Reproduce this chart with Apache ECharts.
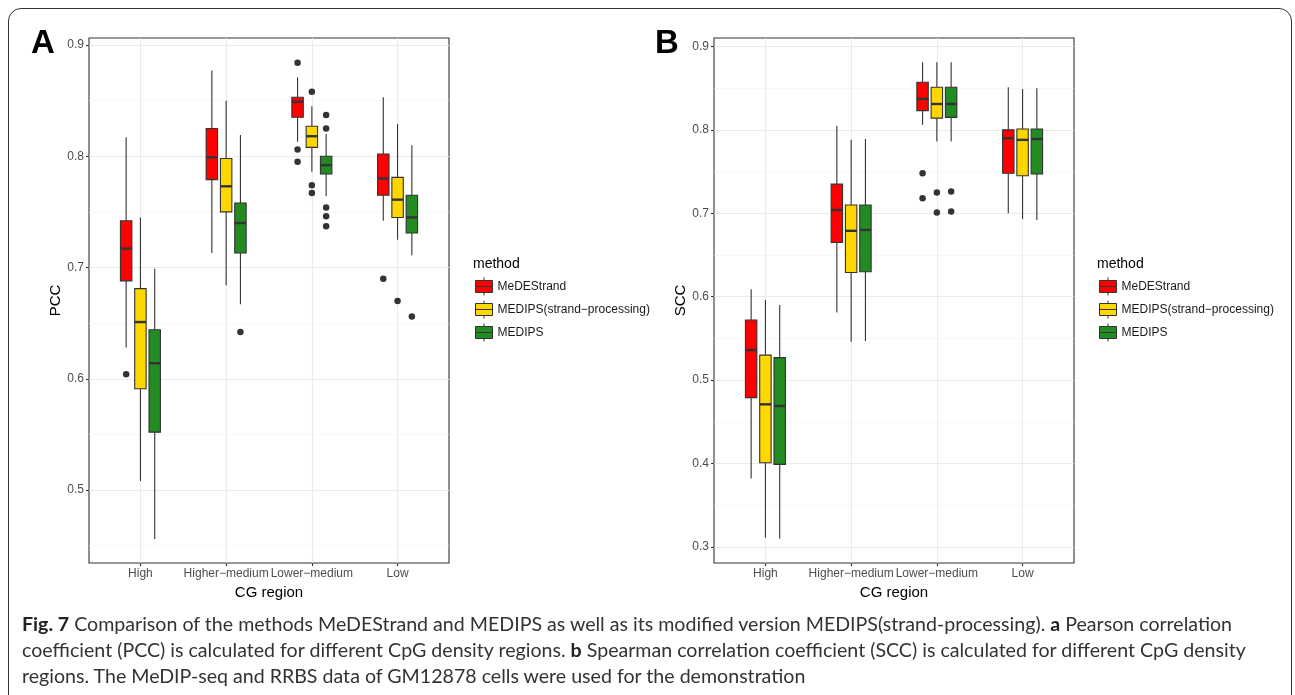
<!DOCTYPE html>
<html>
<head>
<meta charset="UTF-8">
<title>Fig. 7</title>
<script src="https://cdn.jsdelivr.net/npm/echarts@6/dist/echarts.min.js"></script>
<style>
	body { margin: 0; background: #fff; }
	#frame {
		position: absolute; left: 8px; top: 8px; width: 1284px; height: 720px;
		border: 1.5px solid #333; border-radius: 13px; box-sizing: border-box;
	}
	#chart { position: absolute; left: 0; top: 0; width: 1295px; height: 695px; }
	#caption {
		position: absolute; left: 22px; top: 611px; width: 1265px;
		font-family: Lato, "Open Sans", sans-serif; font-size: 19.6px; line-height: 26px;
		color: #333; white-space: nowrap;
	}
	#caption b { color: #222; }
</style>
</head>
<body>
<div id="frame"></div>
<div id="chart"></div>
<div id="caption">
	<b>Fig. 7</b> Comparison of the methods MeDEStrand and MEDIPS as well as its modified version MEDIPS(strand-processing). <b>a</b> Pearson correlation<br>
	coefficient (PCC) is calculated for different CpG density regions. <b>b</b> Spearman correlation coefficient (SCC) is calculated for different CpG density<br>
	regions. The MeDIP-seq and RRBS data of GM12878 cells were used for the demonstration
</div>
<script type="text/javascript">
	// categories and methods
	var categories = ['High', 'Higher\u2212medium', 'Lower\u2212medium', 'Low'];
	var methods = ['MeDEStrand', 'MEDIPS(strand\u2212processing)', 'MEDIPS'];
	var colors = ['#FF0000', '#FFD700', '#228B22'];

	// boxes: [lower whisker, Q1, median, Q3, upper whisker] per category
	var pccMeDEStrand = [[0.628, 0.688, 0.717, 0.742, 0.817], [0.713, 0.779, 0.799, 0.825, 0.877], [0.813, 0.835, 0.849, 0.853, 0.871], [0.742, 0.765, 0.780, 0.802, 0.853]];
	var pccStrandProc = [[0.508, 0.591, 0.651, 0.681, 0.745], [0.684, 0.750, 0.773, 0.798, 0.850], [0.786, 0.808, 0.818, 0.827, 0.845], [0.725, 0.745, 0.761, 0.781, 0.829]];
	var pccMEDIPS = [[0.456, 0.552, 0.614, 0.644, 0.699], [0.667, 0.713, 0.740, 0.758, 0.819], [0.764, 0.784, 0.792, 0.800, 0.820], [0.711, 0.731, 0.745, 0.765, 0.810]];

	var sccMeDEStrand = [[0.382, 0.479, 0.536, 0.572, 0.609], [0.581, 0.665, 0.704, 0.735, 0.805], [0.806, 0.823, 0.837, 0.857, 0.881], [0.700, 0.748, 0.790, 0.800, 0.851]];
	var sccStrandProc = [[0.311, 0.401, 0.471, 0.530, 0.596], [0.546, 0.629, 0.679, 0.710, 0.788], [0.786, 0.814, 0.831, 0.851, 0.881], [0.693, 0.745, 0.788, 0.801, 0.849]];
	var sccMEDIPS = [[0.310, 0.399, 0.469, 0.527, 0.590], [0.547, 0.630, 0.680, 0.710, 0.789], [0.786, 0.815, 0.831, 0.851, 0.881], [0.692, 0.747, 0.789, 0.801, 0.850]];

	// outliers: [category index, value]
	var pccOutMeDEStrand = [[0, 0.604], [2, 0.884], [2, 0.806], [2, 0.795], [3, 0.690]];
	var pccOutStrandProc = [[2, 0.858], [2, 0.774], [2, 0.767], [3, 0.670]];
	var pccOutMEDIPS = [[1, 0.642], [2, 0.837], [2, 0.825], [2, 0.754], [2, 0.746], [2, 0.737], [3, 0.656]];

	var sccOutMeDEStrand = [[2, 0.748], [2, 0.718]];
	var sccOutStrandProc = [[2, 0.725], [2, 0.701]];
	var sccOutMEDIPS = [[2, 0.726], [2, 0.702]];

	var pccTicks = [0.5, 0.6, 0.7, 0.8, 0.9];
	var pccMinor = [0.45, 0.55, 0.65, 0.75, 0.85];
	var sccTicks = [0.3, 0.4, 0.5, 0.6, 0.7, 0.8, 0.9];
	var sccMinor = [0.35, 0.45, 0.55, 0.65, 0.75, 0.85];

	var DODGE = 0.5 / 3;   // ggplot position_dodge(0.5)
	var BOX_W = 0.4 / 3;   // box width 0.4
	var FONT = '"Liberation Sans", Arial, sans-serif';

	var chart = echarts.init(document.getElementById('chart'));

	function boxRenderer(shift, fill) {
		return function(params, api) {
			var c = api.value(0) + 1 + shift;
			var pMin = api.coord([c, api.value(1)]);
			var pQ1 = api.coord([c, api.value(2)]);
			var pMed = api.coord([c, api.value(3)]);
			var pQ3 = api.coord([c, api.value(4)]);
			var pMax = api.coord([c, api.value(5)]);
			var left = api.coord([c - BOX_W / 2, api.value(3)])[0];
			var right = api.coord([c + BOX_W / 2, api.value(3)])[0];
			var line = { stroke: '#333', lineWidth: 1.1 };
			return {
				type: 'group',
				children: [
					{ type: 'line', shape: { x1: pMax[0], y1: pMax[1], x2: pQ3[0], y2: pQ3[1] }, style: line },
					{ type: 'line', shape: { x1: pQ1[0], y1: pQ1[1], x2: pMin[0], y2: pMin[1] }, style: line },
					{ type: 'rect', shape: { x: left, y: pQ3[1], width: right - left, height: pQ1[1] - pQ3[1] },
						style: { fill: fill, stroke: '#333', lineWidth: 1.1 } },
					{ type: 'line', shape: { x1: left, y1: pMed[1], x2: right, y2: pMed[1] }, style: { stroke: '#333', lineWidth: 2.4 } }
				]
			};
		};
	}

	function buildSeries(gridIdx, boxes, outs) {
		var list = [];
		for (var m = 0; m < methods.length; m++) {
			var shift = (m - 1) * DODGE;
			var data = boxes[m].map(function(b, i) { return [i].concat(b); });
			list.push({
				name: methods[m],
				type: 'custom',
				xAxisIndex: gridIdx,
				yAxisIndex: gridIdx * 2,
				itemStyle: { color: colors[m], borderColor: '#333', borderWidth: 1 },
				renderItem: boxRenderer(shift, colors[m]),
				encode: { x: 0, y: [1, 2, 3, 4, 5] },
				data: data,
				z: 3
			});
			list.push({
				name: methods[m] + ' outliers',
				type: 'scatter',
				xAxisIndex: gridIdx,
				yAxisIndex: gridIdx * 2,
				symbolSize: 6.5,
				itemStyle: { color: '#333', opacity: 1 },
				data: outs[m].map(function(o) { return [o[0] + 1 + shift, o[1]]; }),
				z: 4
			});
		}
		return list;
	}

	function xAxisFor(gridIdx) {
		return {
			type: 'value', gridIndex: gridIdx, min: 0.4, max: 4.6,
			name: 'CG region', nameLocation: 'middle', nameGap: 21,
			nameTextStyle: { fontSize: 15, color: '#000', fontFamily: FONT },
			axisLine: { show: false },
			axisTick: { show: true, length: 3, customValues: [1, 2, 3, 4], lineStyle: { color: '#333', width: 1.1 } },
			axisLabel: { customValues: [1, 2, 3, 4], margin: 5, fontSize: 12, color: '#4d4d4d', fontFamily: FONT,
				formatter: function(v) { return categories[Math.round(v) - 1]; } },
			splitLine: { show: true, lineStyle: { color: '#EBEBEB', width: 1.1 } }
		};
	}

	function yAxesFor(gridIdx, name, min, max, ticks, minor) {
		return [{
			type: 'value', gridIndex: gridIdx, min: min, max: max,
			name: name, nameLocation: 'middle', nameGap: 26,
			nameTextStyle: { fontSize: 15, color: '#000', fontFamily: FONT },
			axisLine: { show: false },
			axisTick: { show: true, length: 3, customValues: ticks, lineStyle: { color: '#333', width: 1.1 } },
			axisLabel: { customValues: ticks, margin: 5, fontSize: 12, color: '#4d4d4d', fontFamily: FONT,
				formatter: function(v) { return v.toFixed(1); } },
			splitLine: { show: true, lineStyle: { color: '#EBEBEB', width: 1.1 } }
		}, {
			type: 'value', gridIndex: gridIdx, min: min, max: max, position: 'left',
			axisLine: { show: false },
			axisTick: { show: false, customValues: minor },
			axisLabel: { show: false },
			splitLine: { show: true, lineStyle: { color: '#F2F2F2', width: 0.6 } }
		}];
	}

	var legendIcon = 'path://M0,3H17V15H0Z M0,9H17 M8.5,0V3 M8.5,15V18';
	function legendFor(left) {
		return {
			left: left, top: 277, orient: 'vertical', padding: 0,
			itemWidth: 17, itemHeight: 18, itemGap: 4,
			selectedMode: false,
			textStyle: { fontSize: 12, color: '#1a1a1a', fontFamily: FONT },
			data: methods.map(function(n, i) {
				return { name: n, icon: legendIcon, itemStyle: { color: colors[i], borderColor: '#333', borderWidth: 1 } };
			})
		};
	}

	var option = {
		animation: false,
		textStyle: { fontFamily: FONT },
		title: [
			{ text: 'A', left: 26, top: 22, textStyle: { fontSize: 33, fontWeight: 'bold', color: '#000', fontFamily: FONT } },
			{ text: 'B', left: 650, top: 22, textStyle: { fontSize: 33, fontWeight: 'bold', color: '#000', fontFamily: FONT } },
			{ text: 'method', left: 468, top: 252, textStyle: { fontSize: 14, fontWeight: 'normal', color: '#000', fontFamily: FONT } },
			{ text: 'method', left: 1092, top: 252, textStyle: { fontSize: 14, fontWeight: 'normal', color: '#000', fontFamily: FONT } }
		],
		legend: [legendFor(475), legendFor(1099)],
		grid: [
			{ left: 89, top: 38, width: 360, height: 525, show: true, borderColor: '#333', borderWidth: 1.1, backgroundColor: '#fff' },
			{ left: 714, top: 38, width: 360, height: 525, show: true, borderColor: '#333', borderWidth: 1.1, backgroundColor: '#fff' }
		],
		xAxis: [xAxisFor(0), xAxisFor(1)],
		yAxis: yAxesFor(0, 'PCC', 0.4344, 0.9063, pccTicks, pccMinor)
			.concat(yAxesFor(1, 'SCC', 0.2808, 0.9101, sccTicks, sccMinor)),
		series: buildSeries(0, [pccMeDEStrand, pccStrandProc, pccMEDIPS], [pccOutMeDEStrand, pccOutStrandProc, pccOutMEDIPS])
			.concat(buildSeries(1, [sccMeDEStrand, sccStrandProc, sccMEDIPS], [sccOutMeDEStrand, sccOutStrandProc, sccOutMEDIPS]))
	};
	chart.setOption(option);
</script>
</body>
</html>
